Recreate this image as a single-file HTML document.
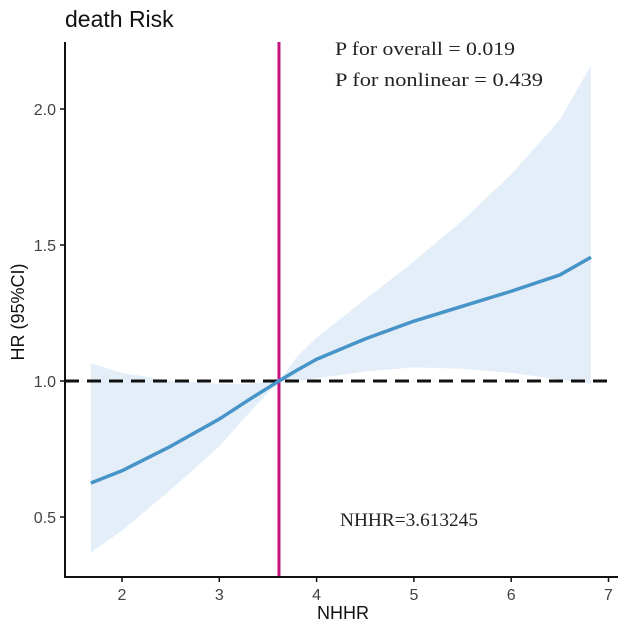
<!DOCTYPE html>
<html><head><meta charset="utf-8"><style>
body{margin:0;background:#fff;width:624px;height:630px;overflow:hidden}
svg{display:block}
.s{font-family:"Liberation Sans",sans-serif}
.r{font-family:"Liberation Serif",serif;font-size:19px;fill:#222}
</style></head><body>
<svg id="c" width="624" height="630">
<text x="65" y="27" class="s" font-size="23" fill="#111">death Risk</text>
<g id="plot"></g>
<line x1="65" y1="42" x2="65" y2="578" stroke="#111" stroke-width="2"/>
<line x1="64" y1="577" x2="618" y2="577" stroke="#111" stroke-width="2"/>
<g id="ticks"></g>
<text x="343" y="619" class="s" font-size="18" text-anchor="middle" fill="#111">NHHR</text>
<text transform="translate(24,312) rotate(-90)" class="s" font-size="18" text-anchor="middle" fill="#111">HR (95%CI)</text>
<text x="335" y="55" class="r" textLength="180" lengthAdjust="spacingAndGlyphs">P for overall = 0.019</text>
<text x="335" y="86" class="r" textLength="208" lengthAdjust="spacingAndGlyphs">P for nonlinear = 0.439</text>
<text x="340" y="526" class="r" textLength="138" lengthAdjust="spacingAndGlyphs">NHHR=3.613245</text>
</svg>
<script>
const xs=[1.68,2,2.5,3,3.3,3.613,3.8,4,4.5,5,5.5,6,6.5,6.82];
const hr=[0.625,0.67,0.76,0.86,0.93,1.0,1.04,1.08,1.155,1.22,1.275,1.33,1.39,1.455];
const lower=[0.37,0.45,0.6,0.76,0.88,1.0,1.0,1.01,1.035,1.05,1.045,1.03,1.005,0.99];
const upper=[1.065,1.03,1.0,0.99,0.99,1.0,1.09,1.16,1.3,1.44,1.59,1.76,1.96,2.16];
const xTicks=[2,3,4,5,6,7];
const yTicks=[0.5,1.0,1.5,2.0];
const cutoff=3.613245;
const refHR=1.0;
const X=v=>122+(v-2)*97.3, Y=v=>381-(v-1)*272;
const NS="http://www.w3.org/2000/svg";
const plot=document.getElementById('plot'),ticks=document.getElementById('ticks');
function mk(tag,attrs,parent){const e=document.createElementNS(NS,tag);for(const k in attrs)e.setAttribute(k,attrs[k]);parent.appendChild(e);return e;}
let d=xs.map((x,i)=>(i?'L':'M')+X(x)+','+Y(upper[i])).join('');
for(let i=xs.length-1;i>=0;i--)d+='L'+X(xs[i])+','+Y(lower[i]);
const band=mk('path',{d:d+'Z',fill:'#e3eef8'},plot);


const ref=mk('line',{x1:65,x2:612,y1:Y(refHR),y2:Y(refHR),stroke:'#111','stroke-width':3,'stroke-dasharray':'14 8'},plot);


const vl=mk('line',{x1:X(cutoff),x2:X(cutoff),y1:42,y2:577,stroke:'#c8127e','stroke-width':3},plot);


const ln=mk('path',{d:xs.map((x,i)=>(i?'L':'M')+X(x)+','+Y(hr[i])).join(''),fill:'none',stroke:'#4694c8','stroke-width':3.5,'stroke-linejoin':'round'},plot);


xTicks.forEach(t=>{
 const l=mk('line',{x1:X(t),x2:X(t),y1:577,y2:582,stroke:'#111','stroke-width':1.5},ticks);
 
 
 const tx=mk('text',{x:X(t),y:600,'text-anchor':'middle','font-size':16,fill:'#444',class:'s'},ticks);tx.textContent=t;
 
 
});
yTicks.forEach(t=>{
 const l=mk('line',{x1:60,x2:65,y1:Y(t),y2:Y(t),stroke:'#111','stroke-width':1.5},ticks);
 
 
 const tx=mk('text',{x:56,y:Y(t)+6,'text-anchor':'end','font-size':16,fill:'#444',class:'s'},ticks);tx.textContent=t.toFixed(1);
 
 
});
</script>
</body></html>
